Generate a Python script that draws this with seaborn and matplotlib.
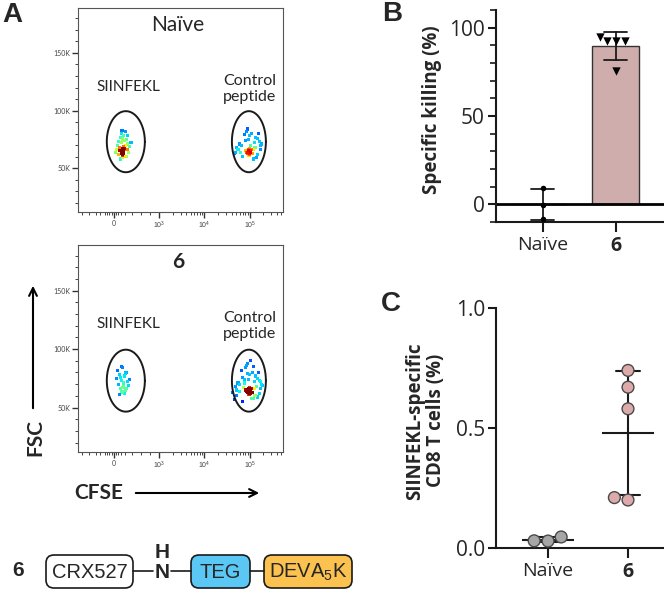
import numpy as np
import pandas as pd
import matplotlib
matplotlib.use("Agg")
import matplotlib.pyplot as plt
import seaborn as sns
from matplotlib.scale import SymmetricalLogTransform
from matplotlib.patches import FancyBboxPatch, FancyArrowPatch
from matplotlib.ticker import FixedLocator, MultipleLocator

# ---------------- data ----------------
groups = ["Naïve", "6"]
killing_naive = [9.0, -0.5, -8.5]
killing_6 = [95.0, 92.5, 92.5, 92.5, 75.5]
killing_ticks = [0, 50, 100]
tcell_naive = [0.046, 0.029, 0.030]
tcell_6 = [0.74, 0.67, 0.58, 0.21, 0.20]
tcell_ticks = [0.0, 0.5, 1.0]

flow_titles = ["Naïve", "6"]
gate_labels = ["SIINFEKL", "Control\npeptide"]
cfse_ticks = [0, 1e3, 1e4, 1e5]
cfse_ticklabels = ["0", "$10^3$", "$10^4$", "$10^5$"]
fsc_ticks = [50, 100, 150]
fsc_ticklabels = ["50K", "100K", "150K"]

# flow events (CFSE, FSC in K)
naive_siin_cfse = [180, 200, 190, 170, 210, 195, 185, 205, 175, 215, 190, 200, 160, 220, 185,
                   130, 250, 100, 290, 160, 240, 60, 330, 200, 140, 270, 220, 110, 300, 170,
                   260, 80, 350, 190, 230, 150, 280, 40, 380, 210, 120, 310, 240, 180, 200]
naive_siin_fsc = [64, 63, 65, 64, 65, 62, 66, 64, 63, 66, 61, 67, 65, 63, 65,
                  68, 70, 62, 66, 72, 74, 66, 64, 76, 58, 60, 78, 73, 71, 80,
                  82, 70, 69, 74, 60, 77, 75, 64, 72, 69, 65, 78, 67, 83, 59]
naive_ctrl_cfse = [90000, 100000, 95000, 85000, 105000, 97000, 92000, 102000, 88000, 110000,
                   95000, 99000, 80000, 115000, 93000,
                   65000, 130000, 55000, 150000, 80000, 125000, 48000, 170000, 98000, 70000,
                   140000, 110000, 60000, 160000, 85000, 135000, 52000, 175000, 92000, 118000,
                   75000, 145000, 45000, 180000, 105000, 62000, 155000, 120000, 88000, 100000]
naive_ctrl_fsc = [64, 63, 65, 64, 65, 62, 66, 64, 63, 66, 61, 67, 65, 63, 65,
                  70, 68, 66, 62, 74, 72, 64, 66, 78, 60, 59, 80, 71, 73, 82,
                  77, 68, 70, 75, 58, 79, 76, 63, 71, 70, 64, 80, 66, 84, 61]
imm_siin_cfse = [150, 250, 200, 100, 300, 180, 220, 60, 350, 130, 270, 190,
                 230, 90, 320, 170, 240, 210, 160, 280, 120, 200, 260, 140]
imm_siin_fsc = [66, 65, 67, 70, 72, 64, 68, 75, 74, 78, 80, 63,
                62, 82, 69, 85, 77, 71, 73, 66, 61, 84, 79, 76]
imm_ctrl_cfse = [90000, 100000, 95000, 85000, 105000, 97000, 92000, 102000, 88000, 110000,
                 95000, 99000, 82000, 112000, 93000, 104000, 87000, 96000, 108000, 91000,
                 60000, 140000, 50000, 160000, 75000, 125000, 45000, 175000, 98000, 68000,
                 150000, 115000, 55000, 165000, 80000, 135000, 48000, 185000, 90000, 120000,
                 70000, 145000, 42000, 190000, 105000, 58000, 155000, 128000, 85000, 100000,
                 65000, 130000, 78000, 118000, 95000, 72000, 110000, 88000, 52000, 170000]
imm_ctrl_fsc = [64, 63, 65, 64, 65, 62, 66, 64, 63, 66, 61, 67, 65, 63, 65, 62, 64, 66, 63, 65,
                70, 68, 60, 62, 74, 72, 57, 66, 78, 55, 59, 80, 71, 73, 84, 77, 68, 70, 88, 58,
                76, 75, 63, 69, 90, 64, 80, 66, 86, 61, 82, 60, 71, 85, 74, 67, 58, 79, 65, 72]

gate_center_cfse = [265, 95500]
gate_halfwidth_decades = [0.42, 0.375]
gate_center_fsc = 73
gate_halfheight_fsc = 26.5

construct_parts = ["CRX527", "TEG", "DEVA$_5$K"]

# ---------------- style ----------------
sns.set_style("ticks")
plt.rcParams["font.family"] = ["Lato", "DejaVu Sans"]
plt.rcParams["mathtext.fontset"] = "custom"
plt.rcParams["mathtext.rm"] = "Liberation Sans"
plt.rcParams["mathtext.it"] = "Liberation Sans"
GFONT = ["Open Sans", "DejaVu Sans"]

W, H = 664, 590
fig = plt.figure(figsize=(W / 100, H / 100), dpi=100)


def px_axes(l, t, r, b):
    return fig.add_axes([l / W, 1 - b / H, (r - l) / W, (b - t) / H])


tr = SymmetricalLogTransform(10, 1000, 0.9)
tri = tr.inverted()
jet = matplotlib.colormaps["jet"]


def density(cfse, fsc):
    u = tr.transform(np.asarray(cfse, float)) / 1000.0
    v = np.asarray(fsc, float)
    du = (u[:, None] - u[None, :]) / 0.09
    dv = (v[:, None] - v[None, :]) / 3.0
    return np.exp(-0.5 * (du ** 2 + dv ** 2)).sum(axis=1)


# ---------------- panel A: flow plots ----------------
flow_boxes = [(78, 8, 283, 212), (78, 245, 283, 452)]
samples = [[(naive_siin_cfse, naive_siin_fsc), (naive_ctrl_cfse, naive_ctrl_fsc)],
           [(imm_siin_cfse, imm_siin_fsc), (imm_ctrl_cfse, imm_ctrl_fsc)]]
minor_x = [-700, -550, -400, -300, -200, -150, -100, -50, 50, 100, 150, 250, 400, 600, 800] + \
          [m * 10 ** k for k in (3, 4) for m in range(2, 10)] + [2e5, 3e5, 4e5, 5e5]

for box, pops in zip(flow_boxes, samples):
    ax = px_axes(*box)
    ax.set_xscale("symlog", linthresh=1000, linscale=0.9)
    for cf, fs in pops:
        df = pd.DataFrame({"CFSE": cf, "FSC": fs})
        df["density"] = density(cf, fs)
        df = df.sort_values("density")
        sns.scatterplot(data=df, x="CFSE", y="FSC", hue="density", palette=jet,
                        hue_norm=(-1.2, 15.0), marker="s", s=5, linewidth=0,
                        legend=False, ax=ax, zorder=3)
    t = np.linspace(0, 2 * np.pi, 300)
    for c, hw in zip(gate_center_cfse, gate_halfwidth_decades):
        uc = tr.transform(np.array([float(c)]))[0] / 1000.0
        xs = tri.transform((uc + hw * np.cos(t)) * 1000.0)
        ys = gate_center_fsc + gate_halfheight_fsc * np.sin(t)
        ax.plot(xs, ys, color="#1a1a1a", lw=1.4, zorder=4)
    ax.set_xlim(-790, 5.4e5)
    ax.set_ylim(12, 189)
    ax.set_xticks(cfse_ticks)
    ax.set_xticklabels(cfse_ticklabels)
    ax.xaxis.set_minor_locator(FixedLocator(minor_x))
    ax.set_yticks(fsc_ticks)
    ax.set_yticklabels(fsc_ticklabels)
    ax.yaxis.set_minor_locator(FixedLocator([v for v in range(20, 190, 10) if v % 50]))
    ax.tick_params(which="major", labelsize=5, labelcolor="#444444", color="#333333",
                   width=1.0, length=4, pad=1.5)
    ax.tick_params(which="minor", color="#444444", width=0.7, length=2.5)
    ax.set_xlabel("")
    ax.set_ylabel("")
    for s in ax.spines.values():
        s.set_color("#555555")
        s.set_linewidth(0.8)

# ---------------- panel B: specific killing ----------------
axB = px_axes(496, 10, 664, 222)
dfB = pd.DataFrame({"group": ["Naïve"] * len(killing_naive) + ["6"] * len(killing_6),
                    "value": killing_naive + killing_6})
sns.barplot(data=dfB, x="group", y="value", order=groups, hue="group",
            palette={"Naïve": "white", "6": "#D5A7A7"}, legend=False,
            errorbar="sd", capsize=0.32, width=0.64, edgecolor="#333333", linewidth=1.0,
            err_kws={"color": "#1a1a1a", "linewidth": 1.3}, ax=axB)
axB.axhline(0, color="black", lw=2.0, zorder=2.5)
sns.swarmplot(data=dfB[dfB.group == "Naïve"], x="group", y="value", order=groups,
              color="black", size=4, marker="o", ax=axB, zorder=5)
sns.swarmplot(data=dfB[dfB.group == "6"], x="group", y="value", order=groups,
              color="black", size=6, marker="v", ax=axB, zorder=5)
axB.set_xlim(-0.64, 1.66)
axB.set_ylim(-10, 110)
axB.set_yticks(killing_ticks, [f"{v:g}" for v in killing_ticks])
axB.yaxis.set_minor_locator(MultipleLocator(10))
sns.despine(ax=axB)

# ---------------- panel C: SIINFEKL-specific CD8 T cells ----------------
axC = px_axes(496, 308, 664, 548)
dfC = pd.DataFrame({"group": ["Naïve"] * len(tcell_naive) + ["6"] * len(tcell_6),
                    "value": tcell_naive + tcell_6})
sns.pointplot(data=dfC, x="group", y="value", order=groups, errorbar="sd", capsize=0.3,
              linestyle="none", marker="_", markersize=38, markeredgewidth=1.5,
              color="#1a1a1a", err_kws={"linewidth": 1.5}, ax=axC)
sns.swarmplot(data=dfC, x="group", y="value", order=groups, hue="group",
              palette={"Naïve": "#A6A6A6", "6": "#DDAAAA"}, legend=False, size=8.5,
              edgecolor="#4a4a4a", linewidth=1.0, ax=axC, zorder=5, clip_on=False)
axC.set_xlim(-0.65, 1.45)
axC.set_ylim(0, 1.0)
axC.set_yticks(tcell_ticks, [f"{v:.1f}" for v in tcell_ticks])
sns.despine(ax=axC)

for ax, lab, ycen, xlab, lsize in [
        (axB, "Specific killing (%)", 0.528, -0.32, 13.5),
        (axC, "SIINFEKL-specific\nCD8 T cells (%)", 0.53, -0.30, 13.5)]:
    ax.set_xlabel("")
    ax.set_ylabel(lab, fontsize=lsize, fontweight="bold", linespacing=1.0, family=GFONT)
    ax.yaxis.set_label_coords(xlab, ycen)
    for s in ("left", "bottom"):
        ax.spines[s].set_linewidth(1.5)
        ax.spines[s].set_color("#1a1a1a")
    ax.set_xticks([0, 1], groups)
    ax.tick_params(which="major", width=1.5, length=6, color="#1a1a1a", pad=3)
    ax.tick_params(axis="x", length=7, labelsize=14)
    ax.tick_params(axis="y", labelsize=15, pad=2)
    ax.tick_params(which="minor", width=1.2, length=4, color="#1a1a1a")
    for lbl in ax.get_xticklabels() + ax.get_yticklabels():
        lbl.set_family(GFONT)
        if lbl.get_text() == "6":
            lbl.set_fontweight("bold")

# ---------------- overlay: labels, arrows, construct ----------------
ov = fig.add_axes([0, 0, 1, 1])
ov.set_xlim(0, W)
ov.set_ylim(H, 0)
ov.axis("off")

for x, y, s in [(12, 15, "A"), (392, 14, "B"), (391, 304, "C")]:
    ov.text(x, y, s, fontsize=20, fontweight="bold", ha="center", va="center",
            family="Liberation Sans")

for (l, t, r, b), title in zip(flow_boxes, flow_titles):
    ov.text(178, t + 17, title, fontsize=15, ha="center", va="center",
            fontweight="bold" if title == "6" else "normal")
    ov.text(128, t + 79, gate_labels[0], fontsize=11, ha="center", va="center")
    ov.text(250, t + 81, gate_labels[1], fontsize=11.5, ha="center", va="center",
            linespacing=1.25)

ov.add_patch(FancyArrowPatch((33, 411), (33, 283), arrowstyle="->", mutation_scale=14,
                             lw=1.5, color="black"))
ov.text(35, 437, "FSC", rotation=90, fontsize=15, fontweight="bold", ha="center",
        va="center")
ov.add_patch(FancyArrowPatch((133, 493), (262, 493), arrowstyle="->", mutation_scale=14,
                             lw=1.5, color="black"))
ov.text(99, 493, "CFSE", fontsize=15, fontweight="bold", ha="center", va="center")

box_spans = [(46, 133, "white"), (191, 250, "#5BC7F4"), (264, 352, "#FCC24F")]
for (x0, x1, fc), name in zip(box_spans, construct_parts):
    ov.add_patch(FancyBboxPatch((x0, 555), x1 - x0, 33,
                                boxstyle="round,pad=0,rounding_size=8",
                                fc=fc, ec="#1a1a1a", lw=1.2))
    ov.text((x0 + x1) / 2, 572, name, fontsize=14.5, ha="center", va="center",
            family="Liberation Sans")
for x0, x1 in [(133, 153), (171, 191), (250, 264)]:
    ov.plot([x0, x1], [571, 571], color="#1a1a1a", lw=1.2)
ov.text(162, 572, "N", fontsize=15, fontweight="bold", ha="center", va="center",
        family="Liberation Sans")
ov.text(162, 553, "H", fontsize=15, fontweight="bold", ha="center", va="center",
        family="Liberation Sans")
ov.text(18, 571, "6", fontsize=15, fontweight="bold", ha="center", va="center",
        family="Liberation Sans")

fig.savefig("out.png", dpi=100)
